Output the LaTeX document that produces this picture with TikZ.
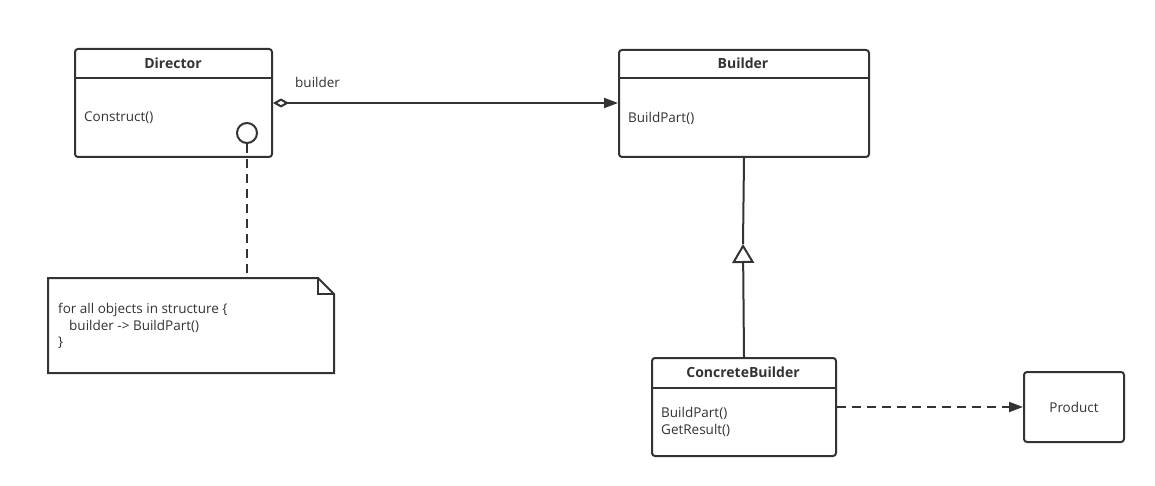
\documentclass[tikz,border=0pt]{standalone}
\usepackage{fontspec}
\setmainfont{Open Sans}
\usetikzlibrary{arrows.meta,calc}
\definecolor{ink}{HTML}{333333}
\tikzset{
  line/.style={draw=ink,line width=2pt},
  umlclass/.style={line,rounded corners=3pt,inner sep=0pt,anchor=north west},
  title/.style={font=\fontsize{14}{16}\selectfont\bfseries,text=ink,inner sep=0pt},
  member/.style={font=\fontsize{13.5}{16.5}\selectfont,text=ink,inner sep=0pt,align=left,anchor=west},
  dashline/.style={line,dash pattern=on 9pt off 6pt}
}
\begin{document}
\begin{tikzpicture}[x=1pt,y=-1pt]
\useasboundingbox (0,0) rectangle (1155,486);

% Director class
\node[umlclass,minimum width=197pt,minimum height=108pt] (dir) at (74,48) {};
\draw[line] ($(dir.north west)+(0,30)$) -- ($(dir.north east)+(0,30)$);
\node[title] (dirname) at (173,63) {Director};
\node[member] (dirop) at (84,118) {Construct()};
\node[circle,line,minimum size=20pt,inner sep=0pt] (hook) at (247,133) {};

% Builder class
\node[umlclass,minimum width=250pt,minimum height=107pt] (bld) at (618,49) {};
\draw[line] ($(bld.north west)+(0,29)$) -- ($(bld.north east)+(0,29)$);
\node[title] (bldname) at (743,63) {Builder};
\node[member] (bldop) at (628,118) {BuildPart()};

% ConcreteBuilder class
\node[umlclass,minimum width=184pt,minimum height=98pt] (cb) at (651,357) {};
\draw[line] ($(cb.north west)+(0,31)$) -- ($(cb.north east)+(0,31)$);
\node[title] (cbname) at (743,372) {ConcreteBuilder};
\node[member] (cbops) at (661,422) {BuildPart()\\GetResult()};

% Product
\node[umlclass,minimum width=100pt,minimum height=70pt] (prod) at (1023,371) {};
\node[member,anchor=center] (prodname) at (prod.center) {Product};

% Note with folded corner
\coordinate (nw) at (48,278);
\coordinate (se) at (334,373);
\draw[line,line join=miter] (nw) -- (318,278) -- (334,294) -- (se) -- (48,373) -- cycle;
\draw[line,line width=1.3pt] (318,278) -- (318,294) -- (334,294);
\node[member,anchor=north west] (notetext) at (58,303)
  {for all objects in structure \{\\\hspace*{11pt}builder -> BuildPart()\\\}};
\coordinate (notetop) at (247,278);

% Connectors
\draw[line,{Diamond[open,length=16pt,width=9pt]}-{Triangle[length=14pt,width=10pt]}]
  (dir.east) -- (bld.west |- dir.east);
\node[member,anchor=west] (rolename) at (295,82) {builder};
\draw[dashline] (hook.south) -- (notetop);

\coordinate (tip) at (743,244);
\draw[line,-{Triangle[open,length=19pt,width=22pt]}] (cb.north) -- (tip);
\draw[line] (tip) -- (bld.south);

\draw[dashline,-{Triangle[length=14pt,width=10pt]}] (cb.east |- prod.west) -- (prod.west);
\end{tikzpicture}
\end{document}
